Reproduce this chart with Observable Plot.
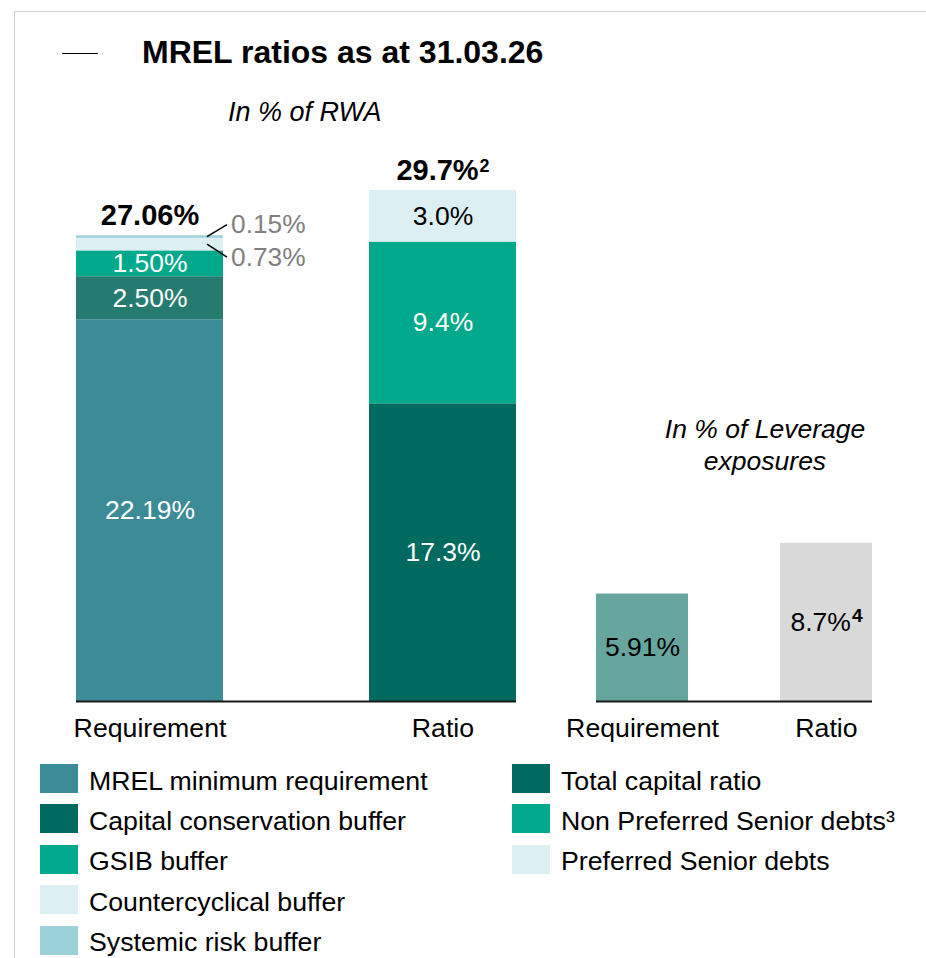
<!DOCTYPE html>
<html>
<head>
<meta charset="utf-8">
<script src="https://cdn.jsdelivr.net/npm/d3@7"></script>
<script src="https://cdn.jsdelivr.net/npm/@observablehq/plot@0.6"></script>
<style>
  html, body { margin: 0; padding: 0; background: #fff; }
  body { font-family: "Liberation Sans", Arial, sans-serif; color: #000; }
  #wrap { position: relative; width: 926px; height: 958px; overflow: hidden; background: #fff; }
  .abs { position: absolute; }
  #frame { left: 14px; top: 11px; width: 930px; height: 960px; border-top: 1.5px solid #cfcfcf; border-left: 1.5px solid #cfcfcf; }
  #dash { left: 62px; top: 53px; width: 36px; height: 0; border-top: 1.5px solid #000; }
  #title { left: 142px; top: 36px; font-size: 32px; font-weight: bold; line-height: 1; white-space: nowrap; }
  #sub1 { left: 228px; top: 99px; font-size: 27px; font-style: italic; line-height: 1; white-space: nowrap; }
  #sub2 { left: 615px; top: 413px; width: 300px; text-align: center; font-size: 26.5px; font-style: italic; line-height: 32px; }
  .leg { position: absolute; height: 29px; display: flex; align-items: center; white-space: nowrap; }
  .leg .sw { width: 38px; height: 29px; flex: none; }
  .leg .tx { margin-left: 11px; font-size: 26.7px; line-height: 29px; position: relative; top: 2.5px; }
</style>
</head>
<body>
<div id="wrap">
  <div id="frame" class="abs"></div>
  <div id="dash" class="abs"></div>
  <div id="title" class="abs">MREL ratios as at 31.03.26</div>
  <div id="sub1" class="abs">In % of RWA</div>
  <div id="sub2" class="abs">In % of Leverage<br>exposures</div>
  <div id="left" class="abs" style="left:0px; top:150px;"></div>
  <div id="right" class="abs" style="left:560px; top:150px;"></div>
  <div id="legend"></div>
</div>
<script>
// ---- Data: RWA chart ----
const rwaBars = ["Requirement", "Ratio"];
const rwaSeries = [
  "MREL minimum requirement", "Capital conservation buffer", "GSIB buffer",
  "Countercyclical buffer", "Systemic risk buffer",
  "Total capital ratio", "Non Preferred Senior debts³", "Preferred Senior debts"
];
const rwaSeriesBar = ["Requirement", "Requirement", "Requirement", "Requirement", "Requirement", "Ratio", "Ratio", "Ratio"];
const rwaValues = [22.19, 2.50, 1.50, 0.73, 0.15, 17.3, 9.4, 3.0];
const rwaLabels = ["22.19%", "2.50%", "1.50%", "0.73%", "0.15%", "17.3%", "9.4%", "3.0%"];
const rwaLabelPos = ["white", "white", "white", "below", "above", "white", "white", "dark"];
const rwaColors = ["#3b8c96", "#267b71", "#00a98b", "#dceff2", "#9dd1d9", "#006a60", "#00a98b", "#dceff2"];
const rwaTotals = [27.06, 29.7];
const rwaTotalLabels = ["27.06%", "29.7%²"];

// ---- Data: Leverage chart ----
const levBars = ["Requirement", "Ratio"];
const levValues = [5.91, 8.7];
const levLabels = ["5.91%", "8.7%⁴"];
const levColors = ["#66a69e", "#d9d9d9"];

// ---- Legend ----
const legendCol1 = ["MREL minimum requirement", "Capital conservation buffer", "GSIB buffer", "Countercyclical buffer", "Systemic risk buffer"];
const legendCol1Colors = ["#3b8c96", "#00695f", "#00a98b", "#dceff2", "#9dd1d9"];
const legendCol2 = ["Total capital ratio", "Non Preferred Senior debts³", "Preferred Senior debts"];
const legendCol2Colors = ["#006a60", "#00a98b", "#dceff2"];

const FONT = "'Liberation Sans', Arial, sans-serif";
const SUPERS = {"²": "2", "³": "3", "⁴": "4"};

const rwaData = rwaValues.map((v, i) => ({
  bar: rwaSeriesBar[i], series: rwaSeries[i], value: v, label: rwaLabels[i], pos: rwaLabelPos[i]
}));
const totalData = rwaBars.map((b, i) => ({bar: b, total: rwaTotals[i], label: rwaTotalLabels[i]}));

const stackOpts = (extra) => Plot.stackY({x: "bar", y: "value", ...extra});

const leftPlot = Plot.plot({
  width: 540, height: 600,
  marginLeft: 76, marginRight: 24, marginTop: 40, marginBottom: 49,
  style: {fontFamily: FONT, fontSize: "26.7px", color: "#000", background: "transparent", overflow: "visible"},
  x: {domain: rwaBars, paddingInner: 0.5, paddingOuter: 0, tickSize: 0, tickPadding: 17, label: null},
  y: {domain: [0, d3.max(rwaTotals)], axis: null},
  color: {domain: rwaSeries, range: rwaColors},
  marks: [
    Plot.barY(rwaData, stackOpts({fill: "series"})),
    Plot.text(rwaData, stackOpts({text: d => d.pos === "white" ? d.label : null, fill: "#fff", fontSize: 26.5})),
    Plot.text(rwaData, stackOpts({text: d => d.pos === "dark" ? d.label : null, fill: "#000", fontSize: 26.5})),
    Plot.text(rwaData, stackOpts({text: d => d.pos === "above" ? d.label : null, fill: "#808080", fontSize: 26.3, textAnchor: "start", dx: 81, dy: -12})),
    Plot.text(rwaData, stackOpts({text: d => d.pos === "below" ? d.label : null, fill: "#808080", fontSize: 26.3, textAnchor: "start", dx: 81, dy: 13})),
    Plot.text(totalData, {x: "bar", y: "total", text: "label", dy: -20, fontSize: 29, fontWeight: "bold", fill: "#000"}),
    Plot.ruleY([0], {stroke: "#1a1a1a", strokeWidth: 2})
  ]
});
document.getElementById("left").appendChild(leftPlot);

// leader lines for the small outside labels (positions from the plot's own scales)
{
  const xs = leftPlot.scale("x"), ys = leftPlot.scale("y");
  const svg = d3.select(leftPlot);
  let cum = {};
  rwaData.forEach(d => {
    const base = cum[d.bar] || 0;
    cum[d.bar] = base + d.value;
    if (d.pos !== "above" && d.pos !== "below") return;
    const mid = base + d.value / 2;
    const xr = xs.apply(d.bar) + xs.bandwidth;
    const y0 = ys.apply(mid);
    const y1 = y0 + (d.pos === "above" ? -12 : 13);
    svg.append("line")
      .attr("x1", xr - 16).attr("y1", y0)
      .attr("x2", xr + 4).attr("y2", y1)
      .attr("stroke", "#000").attr("stroke-width", 1.5);
  });
}

const levData = levValues.map((v, i) => ({bar: levBars[i], value: v, label: levLabels[i]}));

const rightPlot = Plot.plot({
  width: 366, height: 600,
  marginLeft: 36, marginRight: 54, marginTop: 40, marginBottom: 49,
  style: {fontFamily: FONT, fontSize: "26.7px", color: "#000", background: "transparent", overflow: "visible"},
  x: {domain: levBars, paddingInner: 0.5, paddingOuter: 0, tickSize: 0, tickPadding: 17, label: null},
  y: {domain: [0, 28.1], axis: null},
  color: {domain: levBars, range: levColors},
  marks: [
    Plot.barY(levData, stackOpts({fill: "bar"})),
    Plot.text(levData, stackOpts({text: "label", fill: "#000", fontSize: 26.5})),
    Plot.ruleY([0], {stroke: "#1a1a1a", strokeWidth: 2})
  ]
});
document.getElementById("right").appendChild(rightPlot);

// render superscript characters as raised tspans
function superscripts(svgNode, opts) {
  d3.select(svgNode).selectAll("text").each(function () {
    const targets = this.children.length ? d3.select(this).selectAll("tspan").nodes() : [this];
    targets.forEach(node => {
      const s = node.textContent;
      const last = s.slice(-1);
      if (!SUPERS[last]) return;
      const n = d3.select(node);
      n.text(s.slice(0, -1));
      n.append("tspan")
        .attr("font-size", opts.size)
        .attr("font-weight", opts.weight)
        .attr("dy", "-0.45em")
        .attr("dx", "1")
        .text(SUPERS[last]);
    });
  });
}
superscripts(leftPlot, {size: "0.62em", weight: "bold"});
superscripts(rightPlot, {size: "0.72em", weight: "bold"});

// legend
const legend = document.getElementById("legend");
function addLegend(names, colors, left) {
  names.forEach((n, i) => {
    const row = document.createElement("div");
    row.className = "leg";
    row.style.left = left + "px";
    row.style.top = (764 + i * 40.4) + "px";
    row.innerHTML = `<div class="sw" style="background:${colors[i]}"></div><div class="tx">${n}</div>`;
    legend.appendChild(row);
  });
}
addLegend(legendCol1, legendCol1Colors, 40);
addLegend(legendCol2, legendCol2Colors, 512);
</script>
</body>
</html>
